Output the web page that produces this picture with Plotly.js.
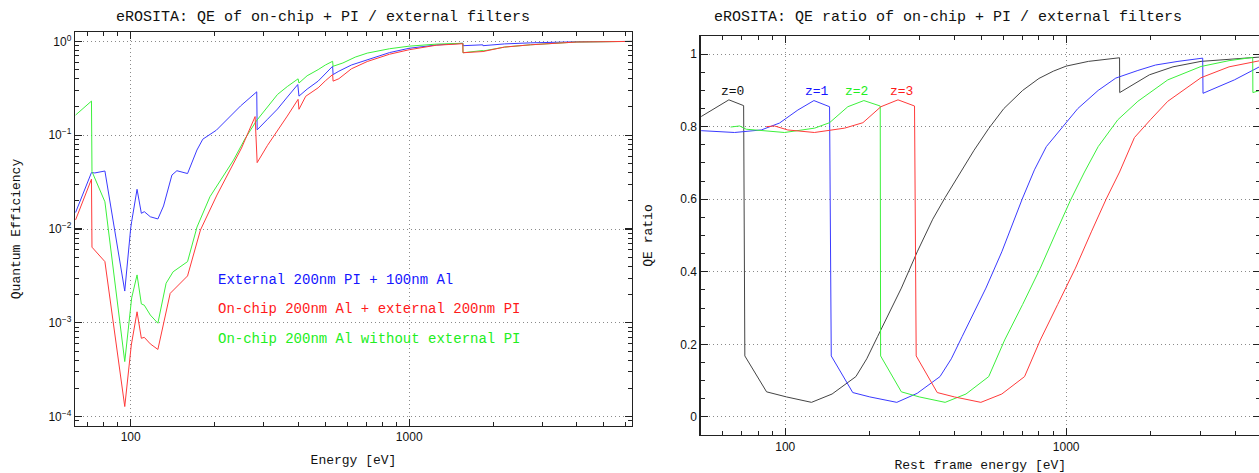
<!DOCTYPE html>
<html><head><meta charset="utf-8">
<script src="https://cdn.plot.ly/plotly-3.0.1.min.js"></script>
<style>html,body{margin:0;padding:0;overflow:hidden;background:#fff}#chart{width:1261px;height:473px}</style>
</head><body><div id="chart"></div><script>
// ---- Left panel data: QE vs energy (eV) ----
const blueE = [63.4, 72.3, 74.3, 80.8, 95.2, 99.3, 100, 100.8, 105.4, 109.2, 111.9, 117.6, 125.2, 131.2, 140.6, 146.5, 160, 172.9, 181.5, 203, 248, 283.5, 284.5, 310, 336.6, 365, 398, 402, 430, 471, 500, 531, 533, 559, 620, 707, 850, 1000, 1250, 1558, 1560, 1838, 1840, 2200, 2724, 4000, 6300];
const blueQE = [0.0150, 0.0400, 0.0396, 0.0415, 0.00218, 0.0095, 0.0102, 0.0120, 0.0265, 0.0147, 0.0153, 0.0135, 0.0128, 0.0176, 0.0376, 0.0418, 0.0390, 0.0695, 0.0907, 0.113, 0.205, 0.29, 0.114, 0.148, 0.19, 0.255, 0.347, 0.261, 0.31, 0.377, 0.455, 0.543, 0.443, 0.481, 0.56, 0.64, 0.76, 0.845, 0.915, 0.955, 0.90, 0.92, 0.90, 0.94, 0.965, 0.99, 1.0];
const greenE = [63.4, 72.3, 72.6, 80.8, 95.2, 100, 100.8, 105.4, 109.2, 111.9, 117.6, 125.2, 134, 142, 160, 173, 192.6, 234, 257, 282.6, 310, 336.6, 365, 399, 402, 430, 471, 500, 531, 533, 578, 640, 707, 850, 1000, 1250, 1558, 1560, 1838, 1840, 2200, 2724, 4000, 6300];
const greenQE = [0.164, 0.231, 0.041, 0.0195, 0.000386, 0.00162, 0.00184, 0.00324, 0.00159, 0.00154, 0.00121, 0.00099, 0.00264, 0.0035, 0.00449, 0.0105, 0.0221, 0.0543, 0.091, 0.142, 0.2, 0.272, 0.33, 0.399, 0.36, 0.43, 0.50, 0.56, 0.614, 0.543, 0.589, 0.68, 0.75, 0.835, 0.89, 0.935, 0.955, 0.757, 0.80, 0.79, 0.87, 0.92, 0.985, 1.0];
const redE = [63.4, 72.3, 72.6, 80.8, 95.2, 100, 100.5, 105.4, 109.2, 111.9, 117.6, 125.2, 138.6, 160, 178, 204, 250, 279.7, 284.5, 310, 336.6, 365, 399, 402, 425, 471, 500, 531, 533, 559, 620, 707, 850, 1000, 1250, 1558, 1560, 1838, 1840, 2200, 2724, 4000, 6300];
const redQE = [0.0125, 0.034, 0.0064, 0.00449, 0.000128, 0.000514, 0.00058, 0.00131, 0.000684, 0.0007, 0.000596, 0.00052, 0.00206, 0.00316, 0.00976, 0.023, 0.073, 0.158, 0.051, 0.078, 0.111, 0.16, 0.241, 0.189, 0.26, 0.32, 0.38, 0.443, 0.377, 0.40, 0.51, 0.61, 0.73, 0.815, 0.91, 0.945, 0.757, 0.79, 0.78, 0.87, 0.92, 0.985, 1.0];

// ---- Right panel data: QE ratio vs rest frame energy (eV) ----
const z0E = [50.2, 63, 71.1, 71.8, 85.8, 101, 124, 146.8, 178.4, 195, 213, 259, 295, 335, 371, 420, 470, 530, 600, 700, 800, 900, 1000, 1200, 1549, 1551, 1979, 2400, 3020, 4900];
const z0R = [0.828, 0.874, 0.858, 0.168, 0.069, 0.055, 0.040, 0.063, 0.111, 0.16, 0.221, 0.355, 0.455, 0.545, 0.605, 0.675, 0.735, 0.795, 0.85, 0.90, 0.933, 0.953, 0.967, 0.98, 0.99, 0.894, 0.943, 0.965, 0.98, 0.992];
const z1E = [50.2, 66, 82.2, 95.4, 110.9, 126.5, 143.8, 145.8, 173.9, 200, 249.5, 295, 355.5, 390, 426, 518, 590, 697, 771, 850, 973, 1100, 1300, 1502, 1800, 2080, 2500, 3062, 3070, 3971, 4900];
const z1R = [0.789, 0.784, 0.791, 0.81, 0.846, 0.872, 0.855, 0.168, 0.067, 0.055, 0.040, 0.065, 0.111, 0.16, 0.221, 0.355, 0.455, 0.60, 0.681, 0.745, 0.80, 0.85, 0.90, 0.934, 0.955, 0.97, 0.98, 0.989, 0.892, 0.929, 0.966];
const z2E = [63.9, 68.8, 72.6, 99.4, 127.2, 143.8, 167, 190.5, 217.8, 218.5, 259, 300, 370.8, 440, 530, 604, 700, 809, 922, 1040, 1162, 1300, 1527, 1800, 2300, 3020, 3800, 4613, 4620, 4900];
const z2R = [0.799, 0.802, 0.793, 0.784, 0.796, 0.811, 0.855, 0.872, 0.857, 0.168, 0.069, 0.055, 0.040, 0.063, 0.111, 0.212, 0.31, 0.41, 0.51, 0.60, 0.675, 0.745, 0.819, 0.87, 0.929, 0.966, 0.982, 0.991, 0.894, 0.90];
const z3E = [85.6, 91.6, 102, 127, 162.7, 189, 219, 252, 288.5, 292.5, 347.6, 400, 497, 590, 711, 809, 933, 1079, 1229, 1387, 1549, 1750, 2000, 2300, 3020, 3800, 4900];
const z3R = [0.80, 0.802, 0.791, 0.784, 0.796, 0.811, 0.855, 0.874, 0.857, 0.168, 0.067, 0.055, 0.040, 0.063, 0.111, 0.212, 0.31, 0.41, 0.51, 0.60, 0.675, 0.77, 0.82, 0.87, 0.935, 0.965, 0.982];

// ---- Tick labels ----
const leftYTickVals = [1e-4, 1e-3, 1e-2, 1e-1, 1];
const leftYTickText = ['10<sup>−4</sup>', '10<sup>−3</sup>', '10<sup>−2</sup>', '10<sup>−1</sup>', '10<sup>0</sup>'];
const xTickVals = [100, 1000];
const xTickText = ['100', '1000'];

const panelTitles = ['eROSITA: QE of on-chip + PI / external filters', 'eROSITA: QE ratio of on-chip + PI / external filters'];
const legendTexts = ['External 200nm PI + 100nm Al', 'On-chip 200nm Al + external 200nm PI', 'On-chip 200nm Al without external PI'];
const zLabels = ['z=0', 'z=1', 'z=2', 'z=3'];

// ---- styling / layout ----
const W = 1261, H = 473;
const C = {blue: '#3a3aff', red: '#ff3a3a', green: '#3cf03c', black: '#444444'};
const TC = {blue: '#1515ff', red: '#ff1a1a', green: '#22ee22', black: '#111111'};
const mono = 'Liberation Mono, Courier New, monospace';
const sans = 'Liberation Sans, Arial, sans-serif';
const GRIDDASH = '1px,3px';

function minorLog(lo, hi) {
  const v = [];
  for (let d = lo; d <= hi; d++) for (let m = 2; m <= 9; m++) v.push(m * Math.pow(10, d));
  return v;
}

function line(x, y, color, xa, ya) {
  return {x: x, y: y, xaxis: xa, yaxis: ya, type: 'scatter', mode: 'lines',
          line: {color: color, width: 1}, hoverinfo: 'skip', showlegend: false};
}

const traces = [
  line(blueE, blueQE, C.blue, 'x', 'y'),
  line(greenE, greenQE, C.green, 'x', 'y'),
  line(redE, redQE, C.red, 'x', 'y'),
  line(z0E, z0R, C.black, 'x2', 'y2'),
  line(z1E, z1R, C.blue, 'x2', 'y2'),
  line(z2E, z2R, C.green, 'x2', 'y2'),
  line(z3E, z3R, C.red, 'x2', 'y2')
];

const axCommon = {
  showline: true, linecolor: '#222', linewidth: 1.3, mirror: 'ticks',
  ticks: 'inside', ticklen: 7, tickwidth: 1.2, tickcolor: '#222',
  showgrid: true, gridcolor: '#8a8a8a', griddash: GRIDDASH, gridwidth: 1,
  zeroline: false, tickfont: {family: sans, size: 12, color: '#111'}
};
function ax(extra) { return Object.assign({}, axCommon, extra); }
const minorCommon = {ticks: 'inside', ticklen: 4, tickwidth: 1, tickcolor: '#222', showgrid: false};

const layout = {
  width: W, height: H, margin: {l: 0, r: 0, t: 0, b: 0},
  paper_bgcolor: '#fff', plot_bgcolor: '#fff', showlegend: false,
  xaxis: ax({type: 'log', range: [1.8, 3.8], domain: [75 / W, 632 / W], anchor: 'y',
    tickmode: 'array', tickvals: xTickVals, ticktext: xTickText,
    minor: Object.assign({tickmode: 'array', tickvals: minorLog(1, 3)}, minorCommon),
    title: {text: 'Energy [eV]', font: {family: mono, size: 13, color: '#111'}, standoff: 11}}),
  yaxis: ax({type: 'log', range: [-4.097, 0.097], domain: [1 - 425.7 / H, 1 - 32.3 / H], anchor: 'x',
    tickmode: 'array', tickvals: leftYTickVals, ticktext: leftYTickText,
    minor: Object.assign({tickmode: 'array', tickvals: minorLog(-5, -1)}, minorCommon),
    title: {text: 'Quantum Efficiency', font: {family: mono, size: 13, color: '#111'}, standoff: 24}}),
  xaxis2: ax({type: 'log', range: [1.699, 3.69], domain: [700.7 / W, 1260 / W], anchor: 'y2',
    tickmode: 'array', tickvals: xTickVals, ticktext: xTickText,
    minor: Object.assign({tickmode: 'array', tickvals: minorLog(1, 3)}, minorCommon),
    title: {text: 'Rest frame energy [eV]', font: {family: mono, size: 13, color: '#111'}, standoff: 9}}),
  yaxis2: ax({range: [-0.05, 1.05], domain: [1 - 435 / H, 1 - 36 / H], anchor: 'x2',
    tickmode: 'linear', tick0: 0, dtick: 0.2,
    minor: Object.assign({dtick: 0.05}, minorCommon),
    title: {text: 'QE ratio', font: {family: mono, size: 13, color: '#111'}, standoff: 24}}),
  annotations: []
};

function ann(text, xpx, ypx, color, size, xanchor) {
  return {text: text, x: xpx / W, y: 1 - ypx / H, xref: 'paper', yref: 'paper',
          xanchor: xanchor || 'center', yanchor: 'middle', showarrow: false,
          font: {family: mono, size: size, color: color}};
}
layout.annotations.push(ann(panelTitles[0], 323, 18, '#111', 15));
layout.annotations.push(ann(panelTitles[1], 948, 18, '#111', 15));
layout.annotations.push(ann(legendTexts[0], 216, 280, TC.blue, 14, 'left'));
layout.annotations.push(ann(legendTexts[1], 216, 309, TC.red, 14, 'left'));
layout.annotations.push(ann(legendTexts[2], 216, 339, TC.green, 14, 'left'));
layout.annotations.push(ann(zLabels[0], 732.5, 92, TC.black, 13));
layout.annotations.push(ann(zLabels[1], 817, 92, TC.blue, 13));
layout.annotations.push(ann(zLabels[2], 856.5, 92, TC.green, 13));
layout.annotations.push(ann(zLabels[3], 901.5, 92, TC.red, 13));

Plotly.newPlot('chart', traces, layout, {staticPlot: true, displayModeBar: false});
</script></body></html>
